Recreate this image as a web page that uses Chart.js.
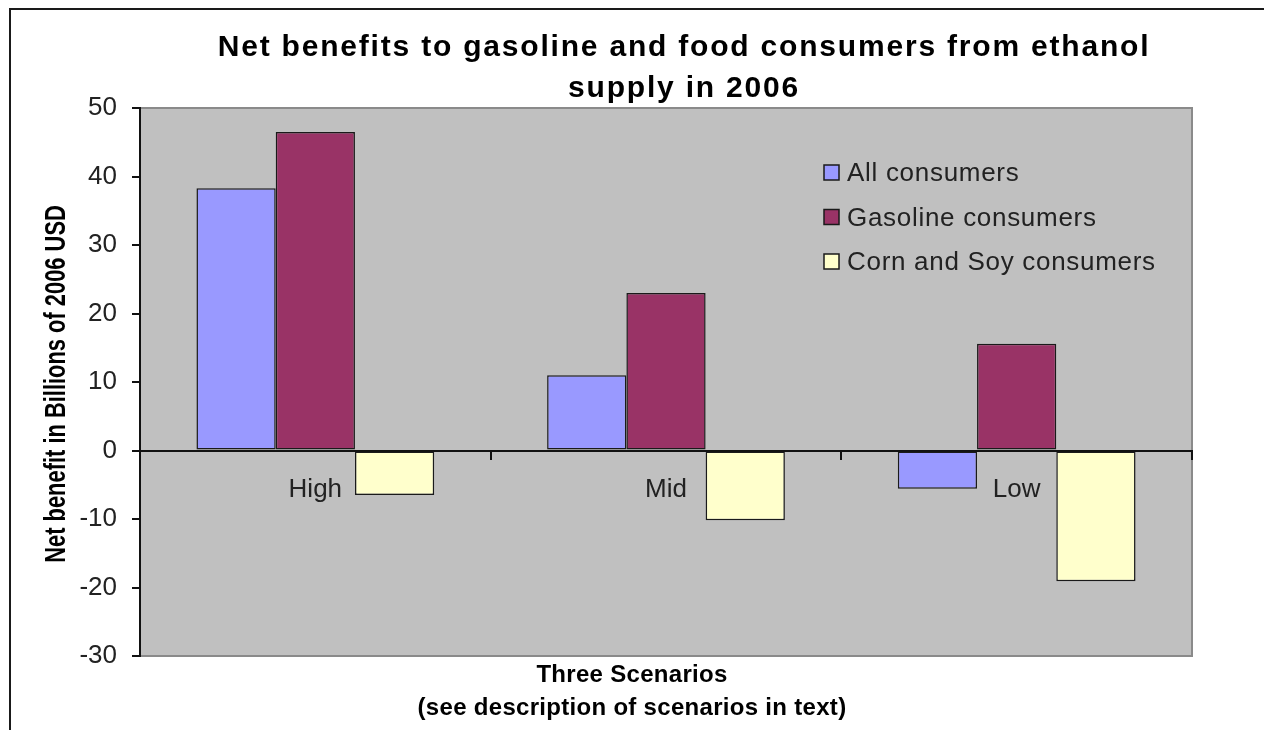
<!DOCTYPE html>
<html><head><meta charset="utf-8">
<script src="https://cdn.jsdelivr.net/npm/chart.js@4.4.1/dist/chart.umd.min.js"></script>
<style>html,body{margin:0;padding:0;background:#fff;overflow:hidden;} canvas{display:block;}</style>
</head><body>
<canvas id="c" width="1264" height="730" style="width:1264px;height:730px"></canvas>
<script>
// ---- data ----
const categories = ['High', 'Mid', 'Low'];
const seriesNames = ['All consumers', 'Gasoline consumers', 'Corn and Soy consumers'];
const allConsumers = [38.3, 11.0, -5.6];
const gasolineConsumers = [46.5, 23.0, 15.6];
const cornSoyConsumers = [-6.5, -10.2, -19.1];
const seriesColors = ['#9999FF', '#993366', '#FFFFCC'];
const yMin = -30, yMax = 50, yStep = 10;
const titleLines = ['Net benefits to gasoline and food consumers from ethanol', 'supply in 2006'];
const xTitleLines = ['Three Scenarios', '(see description of scenarios in text)'];
const yTitle = 'Net benefit in Billions of 2006 USD';

const FONT = "'Liberation Sans', Arial, Helvetica, sans-serif";

const decor = {
  id: 'decor',
  beforeDraw(chart) {
    const ctx = chart.ctx, a = chart.chartArea;
    ctx.save();
    ctx.fillStyle = '#fff';
    ctx.fillRect(0, 0, chart.width, chart.height);
    ctx.strokeStyle = '#1a1a1a'; ctx.lineWidth = 2;
    ctx.strokeRect(10, 9, 2000, 2000);
    ctx.fillStyle = '#c0c0c0';
    ctx.fillRect(a.left, a.top, a.right - a.left, a.bottom - a.top);
    ctx.strokeStyle = '#8a8a8a'; ctx.lineWidth = 2;
    ctx.beginPath();
    ctx.moveTo(a.left, a.top); ctx.lineTo(a.right, a.top);
    ctx.lineTo(a.right, a.bottom); ctx.lineTo(a.left, a.bottom);
    ctx.stroke();
    ctx.restore();
  },
  afterDraw(chart) {
    const ctx = chart.ctx;
    ctx.save();
    // main title
    ctx.fillStyle = '#000';
    ctx.textAlign = 'center'; ctx.textBaseline = 'alphabetic';
    ctx.font = 'bold 30px ' + FONT;
    ctx.letterSpacing = '1.8px';
    ctx.fillText(titleLines[0], 684, 56);
    ctx.fillText(titleLines[1], 684, 97);
    // x-axis title
    ctx.font = 'bold 24px ' + FONT;
    ctx.letterSpacing = '0.3px';
    ctx.fillText(xTitleLines[0], 632, 682);
    ctx.fillText(xTitleLines[1], 632, 715);
    ctx.letterSpacing = '0px';
    // y-axis title
    ctx.save();
    ctx.translate(65, 384);
    ctx.rotate(-Math.PI / 2);
    ctx.scale(0.755, 1);
    ctx.font = 'bold 29px ' + FONT;
    ctx.fillText(yTitle, 0, 0);
    ctx.restore();
    // legend
    ctx.font = '26px ' + FONT;
    ctx.letterSpacing = '0.7px';
    ctx.textAlign = 'left';
    chart.data.datasets.forEach((ds, i) => {
      const cy = 173 + i * 44.5;
      ctx.fillStyle = ds.backgroundColor;
      ctx.fillRect(824, cy - 8, 15, 15);
      ctx.strokeStyle = '#1a1a1a'; ctx.lineWidth = 1.5;
      ctx.strokeRect(824, cy - 8, 15, 15);
      ctx.fillStyle = '#222';
      ctx.fillText(ds.label, 847, cy + 8);
    });
    ctx.restore();
  }
};

const mk = (i, data) => ({
  label: seriesNames[i], data,
  backgroundColor: seriesColors[i],
  borderColor: '#1a1a1a', borderWidth: 1.5, borderSkipped: false,
  categoryPercentage: 0.678, barPercentage: 1.0
});

new Chart(document.getElementById('c'), {
  type: 'bar',
  data: {
    labels: categories,
    datasets: [mk(0, allConsumers), mk(1, gasolineConsumers), mk(2, cornSoyConsumers)]
  },
  options: {
    responsive: false, animation: false, devicePixelRatio: 1,
    layout: { padding: { left: 0, top: 108, right: 72, bottom: 74 } },
    plugins: { legend: { display: false }, title: { display: false }, tooltip: { enabled: false } },
    scales: {
      x: {
        position: { y: 0 },
        offset: true,
        grid: { offset: true, drawOnChartArea: false, color: '#111', lineWidth: 2, tickLength: 8 },
        border: { display: true, color: '#111', width: 2 },
        ticks: { color: '#222', font: { family: FONT, size: 26 }, padding: 16, maxRotation: 0 }
      },
      y: {
        min: yMin, max: yMax,
        ticks: { stepSize: yStep, color: '#222', font: { family: FONT, size: 26 }, padding: 15 },
        grid: { drawOnChartArea: false, color: '#111', lineWidth: 2, tickLength: 8 },
        border: { color: '#111', width: 2 },
        afterFit(s) { s.width = 140; }
      }
    }
  },
  plugins: [decor]
});
</script>
</body></html>
